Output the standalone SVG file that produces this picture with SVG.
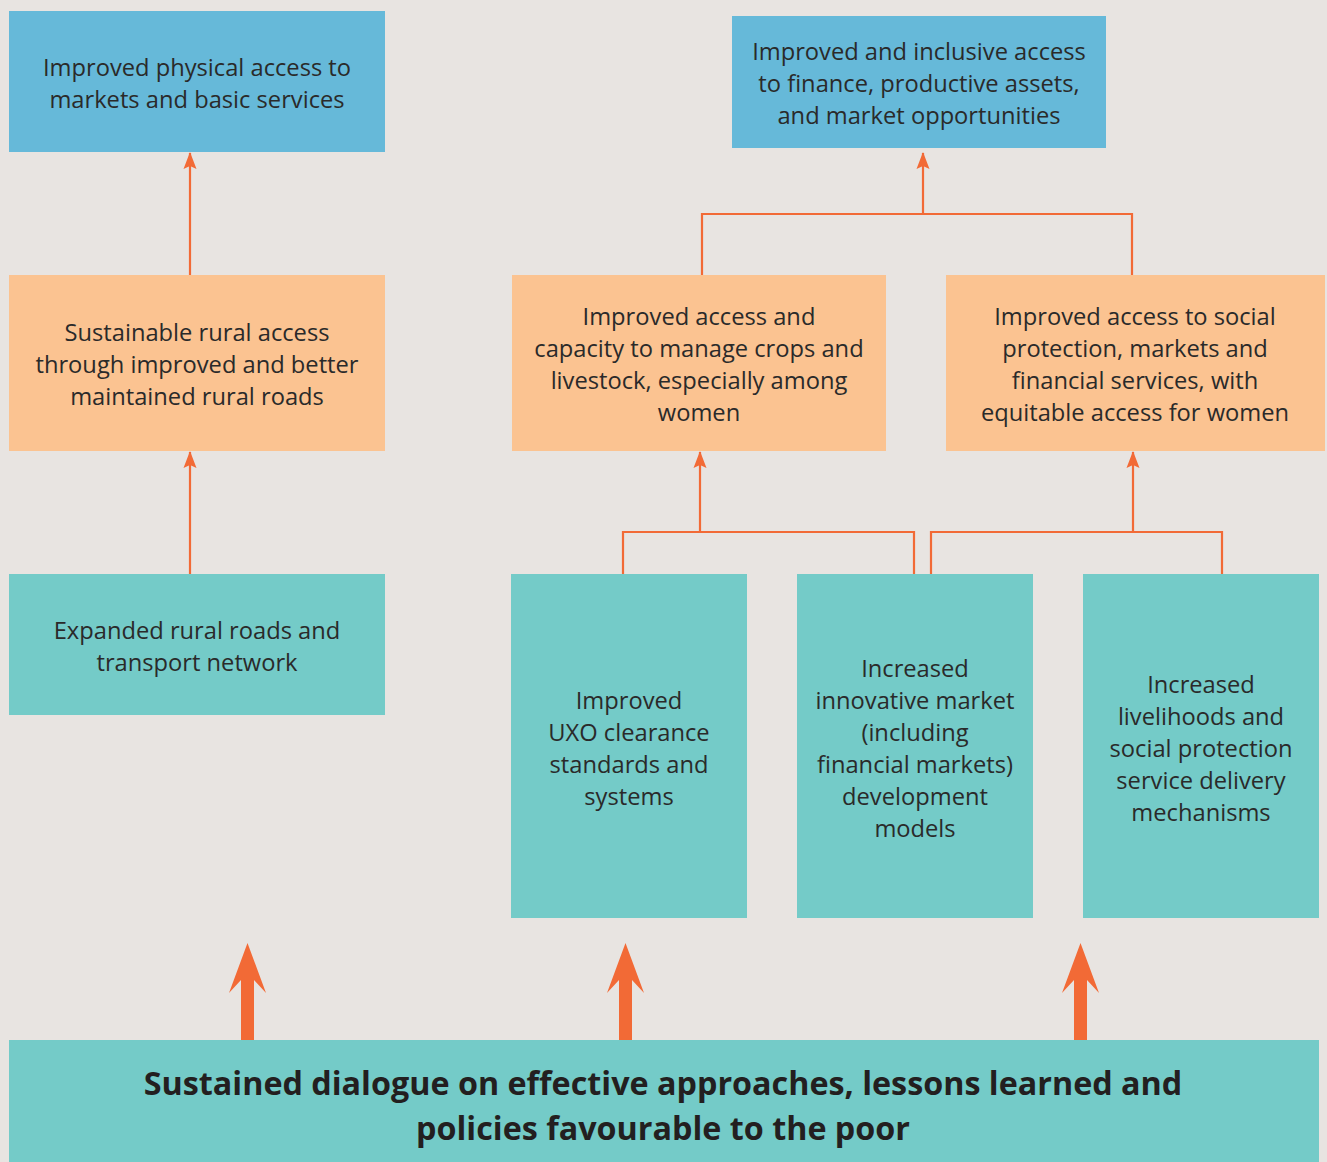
<svg xmlns="http://www.w3.org/2000/svg" width="1327" height="1162" viewBox="0 0 1327 1162">
<defs>
<style>
.t{font-family:"Open Sans","Noto Sans","DejaVu Sans",sans-serif;font-size:23.7px;fill:#2a2a2a;text-anchor:middle}
.b{font-family:"Open Sans","Noto Sans","DejaVu Sans",sans-serif;font-size:32.3px;font-weight:bold;fill:#231f20;text-anchor:middle}
.blue{fill:#66b9d9}
.orange{fill:#fbc391}
.teal{fill:#74cbc8}
.ln{fill:none;stroke:#f26a36;stroke-width:2.2}
.big{fill:#f26a36}
</style>
<marker id="ah" markerWidth="18" markerHeight="14" viewBox="0 0 18 14" refX="16" refY="7" orient="auto" markerUnits="userSpaceOnUse">
<path d="M17,7 L0,0.5 L3,7 L0,13.5 Z" fill="#f26a36"/>
</marker>
</defs>
<rect width="1327" height="1162" fill="#e8e4e1"/>

<g id="connectors">
<line class="ln" x1="190" y1="275" x2="190" y2="153" marker-end="url(#ah)"/>
<line class="ln" x1="190" y1="574" x2="190" y2="452" marker-end="url(#ah)"/>
<polyline class="ln" points="702,275 702,214 1132,214 1132,275"/>
<line class="ln" x1="923" y1="214" x2="923" y2="153" marker-end="url(#ah)"/>
<polyline class="ln" points="623,574 623,532 914,532 914,574"/>
<line class="ln" x1="700" y1="532" x2="700" y2="452" marker-end="url(#ah)"/>
<polyline class="ln" points="931,574 931,532 1222,532 1222,574"/>
<line class="ln" x1="1133" y1="532" x2="1133" y2="452" marker-end="url(#ah)"/>
<path class="big" d="M247.5,943 L266,993 L254,980 L254,1040 L241,1040 L241,980 L229,993 Z"/>
<path class="big" d="M625.5,943 L644,993 L632,980 L632,1040 L619,1040 L619,980 L607,993 Z"/>
<path class="big" d="M1080.5,943 L1099,993 L1087,980 L1087,1040 L1074,1040 L1074,980 L1062,993 Z"/>
</g>

<g id="n_physical">
<rect class="blue" x="9" y="11" width="376" height="141"/>
<text class="t" x="197" y="76">Improved physical access to</text>
<text class="t" x="197" y="108">markets and basic services</text>
</g>

<g id="n_finance">
<rect class="blue" x="732" y="16" width="374" height="132"/>
<text class="t" x="919" y="60">Improved and inclusive access</text>
<text class="t" x="919" y="92">to finance, productive assets,</text>
<text class="t" x="919" y="124">and market opportunities</text>
</g>

<g id="n_rural_access">
<rect class="orange" x="9" y="275" width="376" height="176"/>
<text class="t" x="197" y="341">Sustainable rural access</text>
<text class="t" x="197" y="373">through improved and better</text>
<text class="t" x="197" y="405">maintained rural roads</text>
</g>

<g id="n_crops">
<rect class="orange" x="512" y="275" width="374" height="176"/>
<text class="t" x="699" y="325">Improved access and</text>
<text class="t" x="699" y="357">capacity to manage crops and</text>
<text class="t" x="699" y="389">livestock, especially among</text>
<text class="t" x="699" y="421">women</text>
</g>

<g id="n_social">
<rect class="orange" x="946" y="275" width="379" height="176"/>
<text class="t" x="1135" y="325">Improved access to social</text>
<text class="t" x="1135" y="357">protection, markets and</text>
<text class="t" x="1135" y="389">financial services, with</text>
<text class="t" x="1135" y="421">equitable access for women</text>
</g>

<g id="n_roads">
<rect class="teal" x="9" y="574" width="376" height="141"/>
<text class="t" x="197" y="639">Expanded rural roads and</text>
<text class="t" x="197" y="671">transport network</text>
</g>

<g id="n_uxo">
<rect class="teal" x="511" y="574" width="236" height="344"/>
<text class="t" x="629" y="709">Improved</text>
<text class="t" x="629" y="741">UXO clearance</text>
<text class="t" x="629" y="773">standards and</text>
<text class="t" x="629" y="805">systems</text>
</g>

<g id="n_market">
<rect class="teal" x="797" y="574" width="236" height="344"/>
<text class="t" x="915" y="677">Increased</text>
<text class="t" x="915" y="709">innovative market</text>
<text class="t" x="915" y="741">(including</text>
<text class="t" x="915" y="773">financial markets)</text>
<text class="t" x="915" y="805">development</text>
<text class="t" x="915" y="837">models</text>
</g>

<g id="n_livelihoods">
<rect class="teal" x="1083" y="574" width="236" height="344"/>
<text class="t" x="1201" y="693">Increased</text>
<text class="t" x="1201" y="725">livelihoods and</text>
<text class="t" x="1201" y="757">social protection</text>
<text class="t" x="1201" y="789">service delivery</text>
<text class="t" x="1201" y="821">mechanisms</text>
</g>

<g id="n_dialogue">
<rect class="teal" x="9" y="1040" width="1310" height="122"/>
<text class="b" x="663" y="1095">Sustained dialogue on effective approaches, lessons learned and</text>
<text class="b" x="663" y="1140">policies favourable to the poor</text>
</g>
</svg>
